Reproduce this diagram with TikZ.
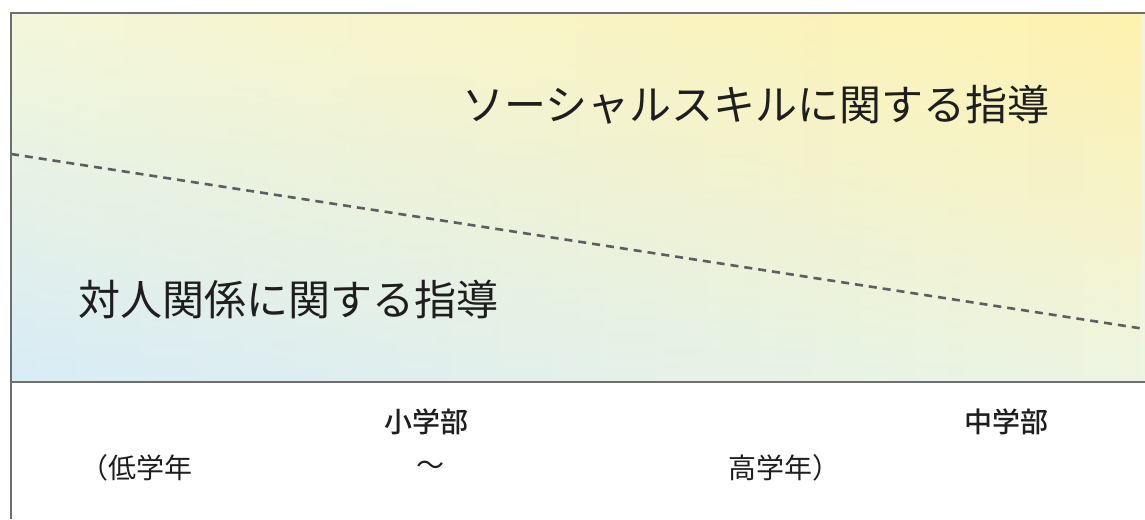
\documentclass[tikz,border=0pt]{standalone}
\usepackage{fontspec}
\usetikzlibrary{fadings}
\newfontfamily\jpfont{Noto Sans CJK JP}
\newfontfamily\jpfontmed{Noto Sans CJK JP Medium}
\definecolor{frame}{HTML}{6E6E6E}
\definecolor{dashc}{HTML}{5E5E5E}
\definecolor{tlc}{HTML}{F4F7DA}
\definecolor{trc}{HTML}{FFF2AE}
\definecolor{blc}{HTML}{D8ECF6}
\definecolor{brc}{HTML}{EEF5E2}
\definecolor{txt}{HTML}{1E1E1E}
\tikzset{
  bigtext/.style={font=\jpfont\fontsize{42pt}{48pt}\selectfont, text=txt, inner sep=0pt, anchor=west},
  smalltext/.style={font=\jpfont\fontsize{28pt}{32pt}\selectfont, text=txt, inner sep=0pt, anchor=west},
  headtext/.style={font=\jpfontmed\fontsize{28pt}{32pt}\selectfont, text=txt, inner sep=0pt, anchor=west},
  frameline/.style={draw=frame, line width=2.2pt},
  dividerline/.style={draw=dashc, line width=2.6pt, dash pattern=on 8pt off 6pt},
}
\begin{document}
\begin{tikzpicture}[x=1pt,y=-1pt]
\useasboundingbox (0,0) rectangle (1145,519);
\fill[white] (0,0) rectangle (1145,519);
\shade[left color=blc, right color=brc] (11,13) rectangle (1145,382);
\shade[left color=tlc, right color=trc, path fading=south] (11,13) rectangle (1145,382);
\coordinate (tl) at (11,13);
\coordinate (tr) at (1145,13);
\coordinate (bl) at (11,519);
\coordinate (ml) at (11,382);
\coordinate (mr) at (1145,382);
\coordinate (dl) at (11,154);
\coordinate (dr) at (1145,329);
\draw[dividerline] (dl) -- (dr);
\draw[frameline] (bl) -- (tl) -- (tr);
\draw[frameline] (ml) -- (mr);
\node[bigtext] (social) at (462,105) {ソーシャルスキルに関する指導};
\node[bigtext] (taijin) at (78,300) {対人関係に関する指導};
\node[headtext] (shou) at (384,422) {小学部};
\node[headtext] (chuu) at (964,422) {中学部};
\node[smalltext] (tei) at (80,468) {（低学年};
\node[smalltext] (tilde) at (416,468) {〜};
\node[smalltext] (kou) at (728,468) {高学年）};
\end{tikzpicture}
\end{document}
